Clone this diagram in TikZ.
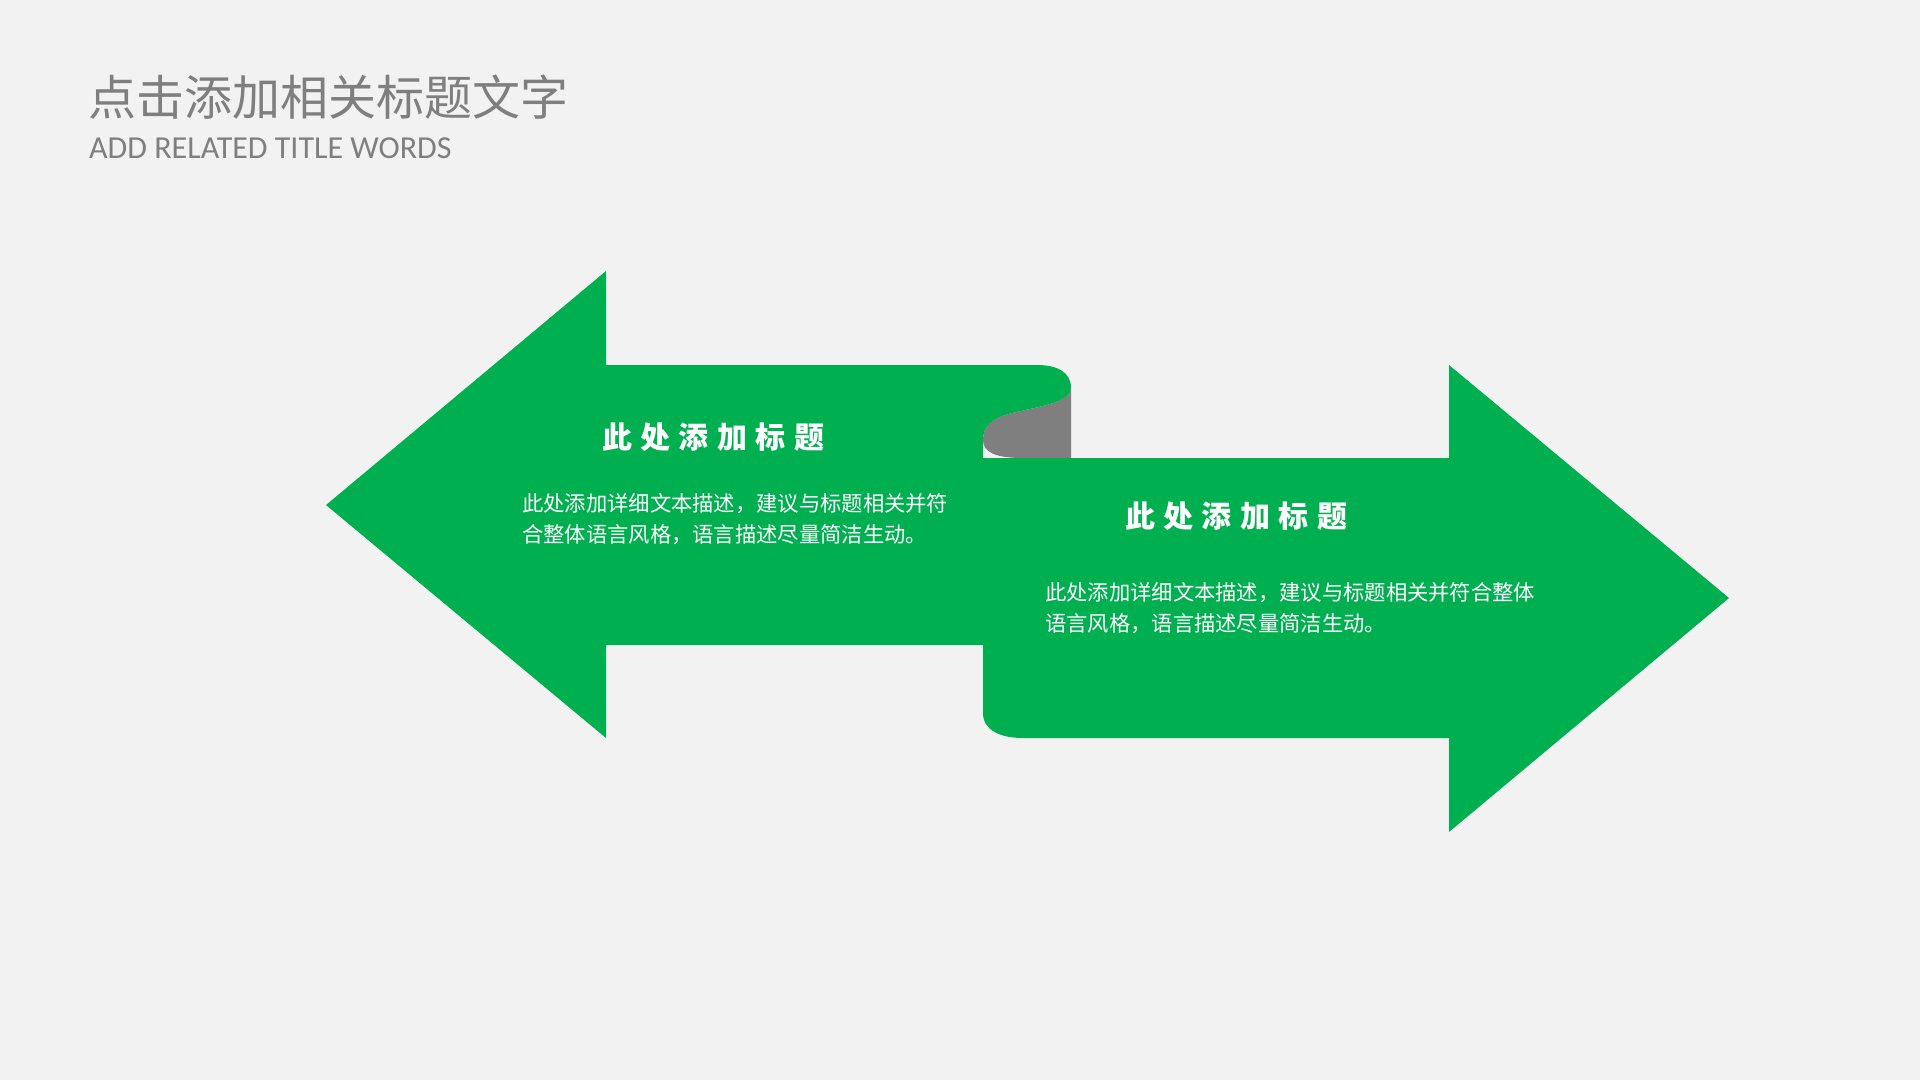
\documentclass[tikz,border=0pt]{standalone}
\usepackage{fontspec}
\newfontfamily\cjk{Noto Sans CJK SC}
\newfontfamily\cjkhead[LetterSpace=28]{Noto Sans CJK SC}
\newfontfamily\latinfont{Carlito}
\definecolor{bg}{HTML}{F2F2F2}
\definecolor{arrowgreen}{HTML}{00B050}
\definecolor{curlgray}{HTML}{7F7F7F}
\definecolor{titlegray}{HTML}{7F7F7F}
\tikzset{
  headtext/.style={anchor=west, inner sep=0pt, text=white, font=\cjkhead\bfseries\fontsize{30}{36}\selectfont},
  bodytext/.style={anchor=west, inner sep=0pt, text=white, align=left, font=\cjk\fontsize{21.3}{31.5}\selectfont},
}
\begin{document}
\begin{tikzpicture}[x=1pt,y=-1pt]
\fill[bg] (0,0) rectangle (1920,1080);
\useasboundingbox (0,0) rectangle (1920,1080);
% title
\node[anchor=west, inner sep=0pt, text=titlegray, font=\cjk\fontsize{48}{56}\selectfont] (title) at (88,97) {点击添加相关标题文字};
\node[anchor=west, inner sep=0pt, text=titlegray, font=\latinfont\fontsize{32}{36}\selectfont] (subtitle) at (89,148) {ADD RELATED TITLE WORDS};
% gray curl (back of ribbon)
\fill[curlgray] (1071,385) -- (1071,458) -- (1023,458)
  .. controls (995,458) and (983,452) .. (983,440)
  .. controls (983,426) and (992,418) .. (1012,413)
  .. controls (1042,406) and (1071,402) .. (1071,388) -- cycle;
% left arrow
\fill[arrowgreen] (326,505) -- (606,271) -- (606,365) -- (1037,365)
  .. controls (1057,365) and (1071,372) .. (1071,388)
  .. controls (1071,402) and (1042,406) .. (1012,413)
  .. controls (992,418) and (983,426) .. (983,440)
  -- (983,645) -- (606,645) -- (606,738) -- cycle;
% right arrow
\fill[arrowgreen] (983,458) -- (1449,458) -- (1449,365) -- (1729,598) -- (1449,832) -- (1449,738) -- (1023,738)
  .. controls (1000,738) and (983,730) .. (983,713) -- cycle;
% texts
\node[headtext] (h1) at (602,437) {此处添加标题};
\node[bodytext] (b1) at (522,519) {此处添加详细文本描述，建议与标题相关并符\\合整体语言风格，语言描述尽量简洁生动。};
\node[headtext] (h2) at (1125,516) {此处添加标题};
\node[bodytext] (b2) at (1045,608) {此处添加详细文本描述，建议与标题相关并符合整体\\语言风格，语言描述尽量简洁生动。};
\end{tikzpicture}
\end{document}
